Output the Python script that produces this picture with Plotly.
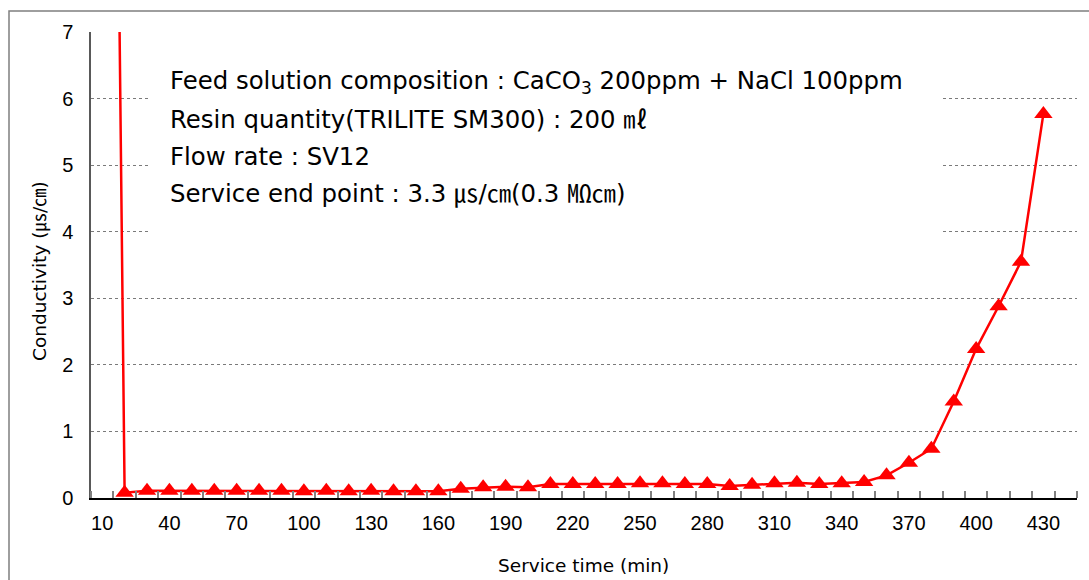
import plotly.graph_objects as go

service_time = [10, 20, 30, 40, 50, 60, 70, 80, 90, 100, 110, 120, 130, 140, 150, 160,
                170, 180, 190, 200, 210, 220, 230, 240, 250, 260, 270, 280, 290, 300,
                310, 320, 330, 340, 350, 360, 370, 380, 390, 400, 410, 420, 430]
conductivity = [31.0, 0.08, 0.11, 0.11, 0.11, 0.11, 0.11, 0.11, 0.11, 0.10, 0.11, 0.10, 0.11,
                0.10, 0.10, 0.10, 0.14, 0.16, 0.17, 0.16, 0.21, 0.21, 0.21, 0.21, 0.22,
                0.22, 0.21, 0.21, 0.18, 0.20, 0.22, 0.23, 0.21, 0.22, 0.24, 0.34, 0.53,
                0.74, 1.45, 2.24, 2.88, 3.55, 5.77]
x_tick_labels = [10, 40, 70, 100, 130, 160, 190, 220, 250, 280, 310, 340, 370, 400, 430]
category_edges = [5 + 10 * i for i in range(45)]
info_lines = [
    "Feed solution composition : CaCO<sub>3</sub> 200ppm + NaCl 100ppm",
    "Resin quantity(TRILITE SM300) : 200 ㎖",
    "Flow rate : SV12",
    "Service end point : 3.3 ㎲/㎝(0.3 ㏁㎝)",
]
x_title = "Service time (min)"
y_title = "Conductivity (㎲/㎝)"

W, H = 1089, 580
L, R, T, B = 91, 1077, 32, 498

def px(x):
    return (x - L) / (R - L)

def py(y):
    return (B - y) / (B - T)

fig = go.Figure()
fig.add_trace(go.Scatter(
    x=service_time, y=conductivity, mode="lines+markers",
    line=dict(color="#FF0000", width=2.5),
    marker=dict(symbol="triangle-up", size=16, color="#FF0000"),
    cliponaxis=True, showlegend=False,
))

tick_font = dict(family="Liberation Sans, Arial", size=20, color="#000000")
title_font = dict(family="DejaVu Sans, Noto Sans CJK KR", size=18.5, color="#000000")
text_font = dict(family="DejaVu Sans, Noto Sans CJK KR", size=24.4, color="#000000")

fig.update_layout(
    width=W, height=H,
    margin=dict(l=L, r=W - R, t=T, b=H - B),
    paper_bgcolor="white", plot_bgcolor="white",
    xaxis=dict(
        range=[5, 445], tickmode="array", tickvals=x_tick_labels,
        ticktext=[str(v) for v in x_tick_labels], ticks="", tickfont=tick_font,
        showgrid=False, zeroline=False, showline=True, linecolor="#000000", linewidth=1.5,
        minor=dict(tickmode="array", tickvals=category_edges, ticks="inside",
                   ticklen=7, tickcolor="#808080", tickwidth=1.5, showgrid=False),
        automargin=False, ticklabelstandoff=6,
    ),
    yaxis=dict(
        range=[0, 7], dtick=1, tick0=0, ticks="", tickfont=tick_font,
        showgrid=True, gridcolor="#7a7a7a", griddash="dot", gridwidth=1,
        zeroline=False, showline=True, linecolor="#595959", linewidth=1.5,
        automargin=False, ticklabelstandoff=12,
    ),
    shapes=[
        dict(type="rect", xref="paper", yref="paper",
             x0=px(9), x1=px(1200), y0=py(700), y1=py(11),
             line=dict(color="#7f7f7f", width=1.5), fillcolor="rgba(0,0,0,0)", layer="below"),
        dict(type="rect", xref="paper", yref="paper",
             x0=px(149), x1=px(940), y0=py(240), y1=py(50),
             line=dict(width=0), fillcolor="white", layer="above"),
    ],
)

fig.add_annotation(xref="paper", yref="paper", x=px(583), y=py(565),
                   xanchor="center", yanchor="middle", showarrow=False,
                   text=x_title, font=title_font)
fig.add_annotation(xref="paper", yref="paper", x=px(40), y=py(271),
                   xanchor="center", yanchor="middle", showarrow=False,
                   text=y_title, font=title_font, textangle=-90)

line_y = [82, 119, 156, 193]
for txt, yy in zip(info_lines, line_y):
    fig.add_annotation(
        xref="paper", yref="paper", x=px(168), y=py(yy),
        xanchor="left", yanchor="middle", showarrow=False, text=txt,
        font=text_font,
    )

fig.write_html("out.html")
